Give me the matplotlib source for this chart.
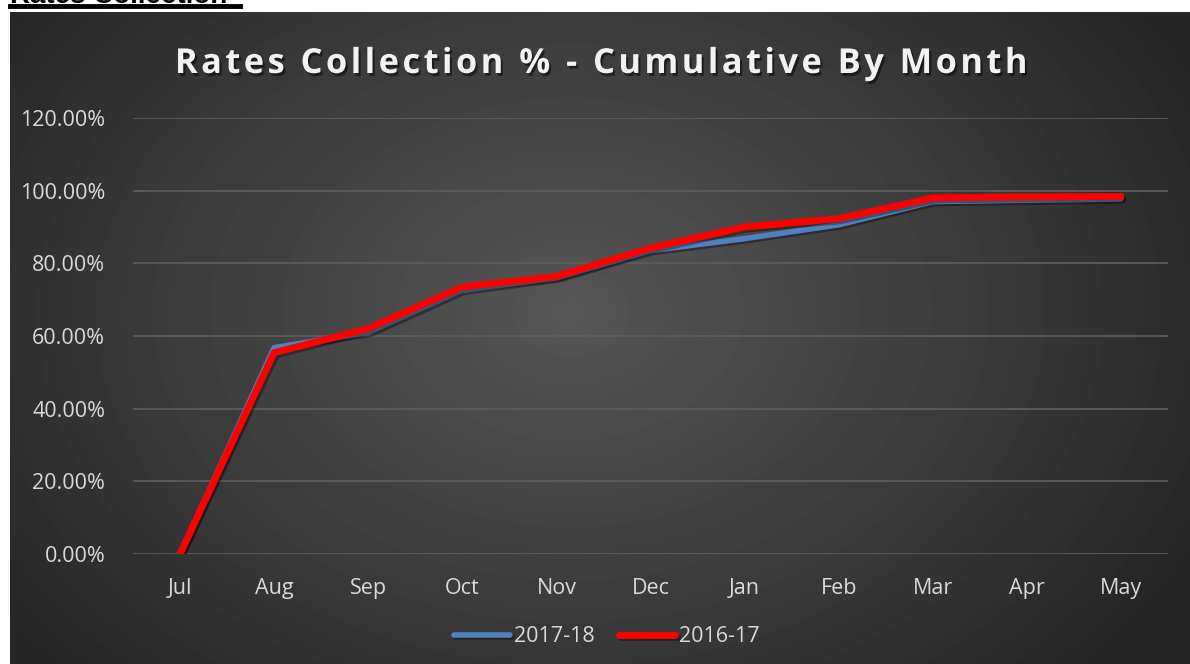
import numpy as np
import matplotlib.pyplot as plt
import matplotlib.patheffects as pe
from matplotlib.lines import Line2D

months = ["Jul", "Aug", "Sep", "Oct", "Nov", "Dec", "Jan", "Feb", "Mar", "Apr", "May"]
rates_1718 = [0.0, 56.8, 61.0, 72.6, 76.0, 83.5, 86.8, 90.6, 97.0, 97.4, 97.7]
rates_1617 = [0.0, 55.4, 62.0, 73.5, 76.4, 84.2, 90.0, 92.3, 98.0, 98.3, 98.4]
yticks = [0, 20, 40, 60, 80, 100, 120]
title = "Rates Collection % - Cumulative By Month"

W, H = 1190, 664
fig = plt.figure(figsize=(W/100, H/100), dpi=100)
fig.patch.set_facecolor("white")

# dark radial gradient behind the chart
bg = fig.add_axes([10/W, 0, 1-10/W, 652/H])
yy, xx = np.mgrid[0:652, 0:1180]
r = np.sqrt(((xx-560)/700.0)**2 + ((yy-300)/520.0)**2)
shade = np.clip(0.34 - 0.19*r, 0.15, 0.34)
bg.imshow(shade, cmap="gray", vmin=0, vmax=1, aspect="auto", extent=[0, 1, 0, 1])
bg.set_axis_off()

# heading above the chart, cut off by the top edge like in the source
fig.text(10/W, 1-3/H, "Rates Collection", fontsize=20, fontweight="bold", family="Liberation Sans",
         color="black", va="baseline", ha="left")
fig.add_artist(Line2D([10/W, 240/W], [1-6/H, 1-6/H], color="black", lw=3.5))

ax = fig.add_axes([133/W, 1-554/H, (1168-133)/W, (554-118)/H])
ax.set_facecolor("none")
x = np.arange(len(months))
shadow = [pe.SimpleLineShadow(offset=(1.5, -1.5), shadow_color="black", alpha=0.35), pe.Normal()]
ax.plot(x, rates_1718, color="#4f81bd", lw=4, solid_capstyle="round", solid_joinstyle="round",
        label="2017-18", path_effects=shadow, zorder=3)
ax.plot(x, rates_1617, color="#ff0000", lw=5, solid_capstyle="round", solid_joinstyle="round",
        label="2016-17", path_effects=shadow, zorder=4)

ax.set_xlim(-0.5, len(months)-0.5)
ax.set_ylim(0, 120)
ax.set_yticks(yticks)
ax.set_yticklabels([f"{v:.2f}%" for v in yticks])
ax.set_xticks(x)
ax.set_xticklabels(months)
ax.grid(axis="y", color="#5e5e5e", lw=1.2)
ax.set_axisbelow(True)
for s in ax.spines.values():
    s.set_visible(False)
ax.tick_params(length=0, colors="#d9d9d9", labelsize=15.5)
ax.tick_params(axis="x", pad=17)
ax.tick_params(axis="y", pad=20)
for lbl in ax.get_xticklabels() + ax.get_yticklabels():
    lbl.set_family("Open Sans")

# letter-spaced title
spaced = "\u200a".join(title)
fig.text(603/W, 1-64/H, spaced,
         fontsize=24.8, fontweight="bold", family="Open Sans", color="#f2f2f2", ha="center", va="center",
         path_effects=[pe.withSimplePatchShadow(offset=(1.5, -2), shadow_rgbFace="black", alpha=0.5)])

leg = ax.legend(loc="center", bbox_to_anchor=((607-133)/1035, (554-637)/(554-118)), ncol=2, frameon=False,
                fontsize=15.5, handlelength=2.6, handletextpad=0.2, columnspacing=1.1)
for t in leg.get_texts():
    t.set_color("#d9d9d9")
    t.set_family("Open Sans")

fig.savefig("out.png", dpi=100, facecolor="white")
